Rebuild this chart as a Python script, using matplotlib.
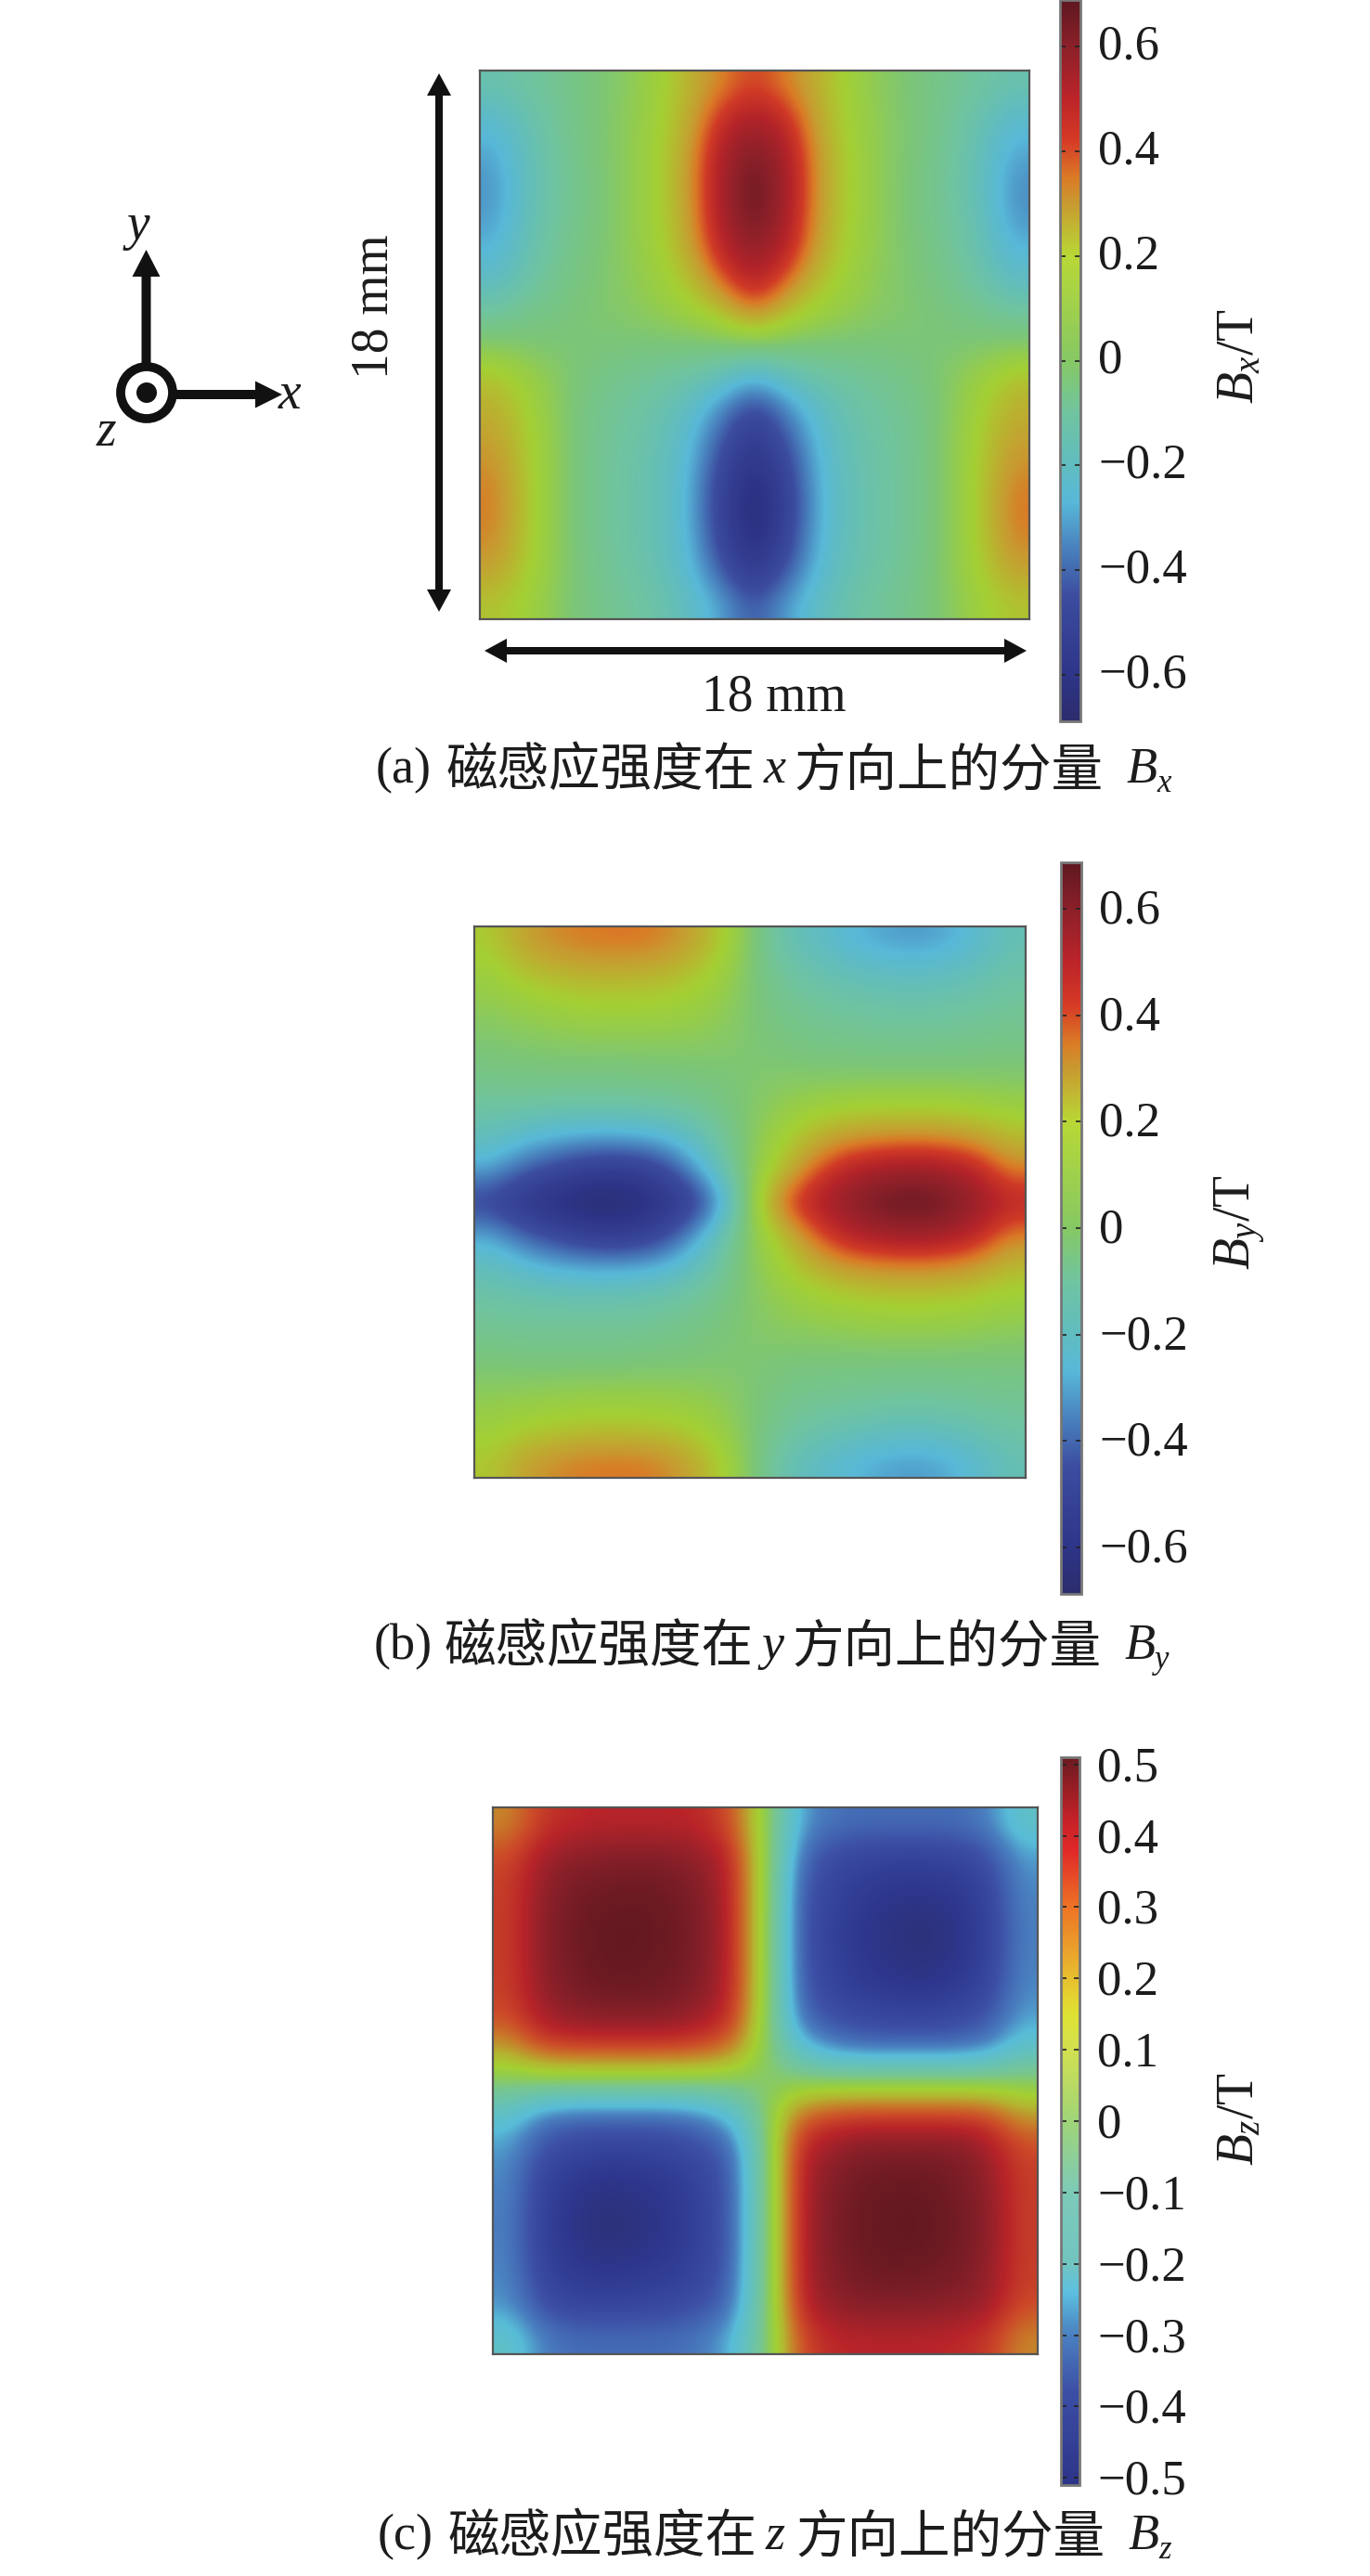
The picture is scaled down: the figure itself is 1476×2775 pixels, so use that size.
import matplotlib
matplotlib.use('Agg')
import matplotlib.pyplot as plt
import numpy as np
from matplotlib.colors import LinearSegmentedColormap, Normalize
from matplotlib.cm import ScalarMappable
from matplotlib.transforms import ScaledTranslation

plt.rcParams['font.family'] = ['Liberation Serif', 'Noto Sans CJK SC']
plt.rcParams['mathtext.fontset'] = 'custom'
plt.rcParams['mathtext.rm'] = 'Liberation Serif'
plt.rcParams['mathtext.it'] = 'Liberation Serif:italic'

W, H = 1476, 2775

# values, T, top row first
bx = [
    [-.14, -.10, -.06, -.01, .04, .12, .24, .34, .42, .34, .24, .12, .04, -.01, -.06, -.10, -.14],
    [-.24, -.15, -.07, -.01, .05, .13, .26, .46, .54, .46, .26, .13, .05, -.01, -.07, -.15, -.24],
    [-.30, -.17, -.08, -.01, .05, .14, .29, .53, .63, .53, .29, .14, .05, -.01, -.08, -.17, -.30],
    [-.33, -.18, -.09, -.02, .05, .14, .30, .55, .68, .55, .30, .14, .05, -.02, -.09, -.18, -.34],
    [-.32, -.17, -.08, -.02, .05, .14, .29, .54, .67, .54, .29, .14, .05, -.02, -.08, -.17, -.33],
    [-.28, -.15, -.07, -.01, .05, .13, .27, .50, .60, .50, .27, .13, .05, -.01, -.07, -.15, -.28],
    [-.21, -.12, -.05, .00, .04, .11, .20, .38, .52, .38, .20, .11, .04, .00, -.05, -.12, -.21],
    [-.10, -.05, -.02, .01, .03, .07, .12, .20, .36, .20, .12, .07, .03, .01, -.02, -.05, -.10],
    [.03, .01, .00, .00, -.01, -.01, -.01, .00, .01, .00, -.01, -.01, -.01, .00, .00, .01, .03],
    [.20, .11, .03, -.03, -.06, -.09, -.12, -.18, -.28, -.18, -.12, -.09, -.06, -.03, .03, .11, .20],
    [.25, .15, .03, -.05, -.09, -.13, -.21, -.35, -.50, -.35, -.21, -.13, -.09, -.05, .03, .15, .25],
    [.29, .17, .04, -.06, -.10, -.15, -.25, -.44, -.58, -.44, -.25, -.15, -.10, -.06, .04, .17, .29],
    [.33, .18, .04, -.06, -.11, -.16, -.27, -.50, -.63, -.50, -.27, -.16, -.11, -.06, .04, .18, .33],
    [.35, .18, .04, -.06, -.11, -.16, -.28, -.52, -.68, -.52, -.28, -.16, -.11, -.06, .04, .18, .36],
    [.33, .18, .04, -.06, -.11, -.16, -.27, -.50, -.65, -.50, -.27, -.16, -.11, -.06, .04, .18, .34],
    [.28, .16, .04, -.05, -.10, -.15, -.25, -.43, -.58, -.43, -.25, -.15, -.10, -.05, .04, .16, .28],
    [.19, .13, .03, -.04, -.08, -.12, -.20, -.31, -.44, -.31, -.20, -.12, -.08, -.04, .03, .13, .19],
]
by = [
    [.17, .28, .33, .35, .36, .35, .30, .20, .02, -.14, -.20, -.26, -.30, -.32, -.30, -.24, -.16],
    [.11, .19, .22, .24, .24, .23, .20, .13, .01, -.09, -.13, -.17, -.19, -.20, -.19, -.16, -.12],
    [.06, .09, .12, .14, .14, .14, .12, .08, .01, -.05, -.08, -.10, -.11, -.12, -.11, -.10, -.08],
    [.01, .03, .04, .05, .05, .05, .05, .04, .01, -.02, -.04, -.05, -.06, -.06, -.06, -.05, -.04],
    [-.03, -.02, -.02, -.02, -.02, -.01, -.01, .00, .01, .02, .01, .01, .01, .01, .01, .01, .01],
    [-.10, -.10, -.11, -.11, -.11, -.10, -.08, -.04, .02, .07, .11, .13, .14, .14, .14, .12, .10],
    [-.18, -.24, -.28, -.30, -.30, -.28, -.22, -.11, .03, .14, .24, .30, .32, .33, .32, .29, .22],
    [-.30, -.41, -.48, -.54, -.56, -.52, -.38, -.18, .04, .20, .38, .50, .55, .57, .55, .49, .34],
    [-.50, -.59, -.64, -.68, -.67, -.63, -.56, -.38, .05, .40, .52, .60, .66, .68, .66, .58, .50],
    [-.30, -.41, -.48, -.54, -.56, -.52, -.38, -.18, .04, .20, .38, .50, .55, .57, .55, .49, .34],
    [-.18, -.24, -.28, -.30, -.30, -.28, -.22, -.11, .03, .14, .24, .30, .32, .33, .32, .29, .22],
    [-.11, -.12, -.13, -.13, -.13, -.12, -.09, -.05, .02, .08, .12, .15, .17, .17, .17, .15, .12],
    [-.06, -.07, -.07, -.07, -.07, -.06, -.04, -.01, .02, .04, .05, .06, .07, .07, .07, .06, .05],
    [.00, -.01, -.01, -.01, -.01, .00, .00, .01, .01, -.01, -.02, -.02, -.02, -.02, -.02, -.02, -.02],
    [.06, .07, .08, .09, .09, .09, .08, .06, .01, -.04, -.06, -.07, -.08, -.09, -.08, -.07, -.06],
    [.12, .16, .18, .20, .20, .19, .17, .11, .01, -.08, -.12, -.15, -.17, -.18, -.17, -.14, -.11],
    [.18, .28, .33, .35, .36, .35, .29, .19, .02, -.14, -.21, -.26, -.30, -.32, -.30, -.24, -.16],
]
bz = [
    [.22, .34, .37, .38, .38, .38, .37, .30, .04, -.26, -.32, -.33, -.33, -.33, -.33, -.30, -.18],
    [.31, .41, .44, .45, .45, .45, .43, .37, .05, -.32, -.39, -.41, -.42, -.42, -.41, -.38, -.27],
    [.33, .43, .47, .48, .49, .48, .45, .38, .05, -.35, -.41, -.44, -.46, -.46, -.45, -.41, -.29],
    [.33, .44, .48, .50, .50, .49, .46, .38, .05, -.36, -.42, -.46, -.48, -.49, -.47, -.42, -.30],
    [.33, .44, .48, .50, .50, .49, .46, .38, .05, -.36, -.42, -.46, -.48, -.49, -.47, -.42, -.30],
    [.33, .43, .47, .49, .49, .48, .45, .38, .05, -.35, -.41, -.45, -.46, -.47, -.45, -.41, -.29],
    [.31, .41, .44, .45, .45, .45, .42, .36, .04, -.33, -.38, -.40, -.41, -.41, -.40, -.37, -.27],
    [.19, .31, .33, .33, .33, .33, .31, .25, .02, -.20, -.30, -.33, -.33, -.33, -.33, -.30, -.19],
    [.00, .01, .01, .01, .01, .01, .01, .00, .00, .00, .00, .00, .00, .00, .00, .00, .00],
    [-.19, -.30, -.33, -.33, -.33, -.33, -.30, -.21, -.02, .25, .31, .33, .33, .33, .33, .31, .19],
    [-.27, -.37, -.40, -.41, -.41, -.40, -.38, -.34, -.04, .36, .42, .45, .45, .45, .45, .41, .31],
    [-.29, -.41, -.45, -.47, -.46, -.45, -.41, -.36, -.05, .38, .45, .48, .49, .49, .47, .43, .33],
    [-.30, -.42, -.47, -.49, -.48, -.46, -.42, -.36, -.05, .38, .46, .49, .50, .50, .48, .44, .33],
    [-.30, -.42, -.47, -.49, -.48, -.46, -.42, -.36, -.05, .38, .46, .49, .50, .50, .48, .44, .33],
    [-.29, -.41, -.45, -.46, -.45, -.44, -.41, -.35, -.05, .38, .45, .48, .49, .48, .47, .43, .33],
    [-.28, -.38, -.41, -.41, -.41, -.40, -.38, -.33, -.05, .37, .43, .45, .45, .45, .44, .42, .31],
    [-.18, -.30, -.33, -.33, -.33, -.33, -.31, -.25, -.04, .30, .37, .38, .38, .38, .37, .34, .22],
]

ticks_ab = [-.6, -.4, -.2, 0, .2, .4, .6]
labels_ab = ['\u22120.6', '\u22120.4', '\u22120.2', '0', '0.2', '0.4', '0.6']
ticks_c = [-.5, -.4, -.3, -.2, -.1, 0, .1, .2, .3, .4, .5]
labels_c = ['\u22120.5', '\u22120.4', '\u22120.3', '\u22120.2', '\u22120.1', '0', '0.1', '0.2', '0.3', '0.4', '0.5']

# colour stops taken from the colour bars, the maps run a bit less yellow
stops_ab_bar = [(-.688, '#2c2c6c'), (-.6, '#2e3588'), (-.45, '#3c4c9f'), (-.35, '#4a86c0'), (-.27, '#58b8d8'),
                (-.2, '#60bcc0'), (-.1, '#70c4a0'), (0, '#86c864'), (.2, '#b8d835'), (.3, '#c89a30'),
                (.35, '#da7a26'), (.42, '#d63a26'), (.5, '#bc2429'), (.6, '#8c2029'), (.688, '#5e1820')]
stops_ab_map = [(-.688, '#2c2c6c'), (-.6, '#2e3588'), (-.45, '#3c4c9f'), (-.35, '#4a86c0'), (-.27, '#58b8d8'),
                (-.2, '#60bcc0'), (-.1, '#70c4a0'), (0, '#7cc678'), (.08, '#94cc4c'), (.15, '#a4d034'),
                (.21, '#b4bc30'), (.3, '#c89a30'), (.35, '#da7a26'), (.42, '#d03a26'), (.5, '#b42429'),
                (.6, '#8c2029'), (.688, '#5e1820')]
stops_c_bar = [(-.51, '#2c3488'), (-.38, '#3c4ea5'), (-.3, '#4a80c0'), (-.24, '#5cc0e0'),
               (-.2, '#72c4c0'), (-.1, '#7ccab8'), (0, '#a0d478'), (.1, '#d2e050'), (.15, '#dfe232'), (.2, '#e8c030'),
               (.3, '#ee7425'), (.38, '#e02828'), (.42, '#c82228'), (.51, '#6c1a22')]
stops_c_map = [(-.51, '#2c2e6c'), (-.46, '#2e378e'), (-.38, '#3c4ea5'), (-.3, '#4a80c0'), (-.24, '#58bcd8'),
               (-.15, '#66c2b8'), (-.05, '#78c690'), (.03, '#90cc50'), (.09, '#a4d032'), (.16, '#b4b430'),
               (.24, '#c87c2a'), (.31, '#cc4a28'), (.38, '#b82429'), (.44, '#8c2029'), (.51, '#5e1820')]


def make_cmap(stops):
    lo, hi = stops[0][0], stops[-1][0]
    return LinearSegmentedColormap.from_list('b', [((v - lo) / (hi - lo), c) for v, c in stops], N=512)


def px_axes(x0, y0, x1, y1):
    return fig.add_axes([x0 / W, 1 - y1 / H, (x1 - x0) / W, (y1 - y0) / H])


def panel(data, box, cbox, stops, bar_stops, ticks, labels, lift):
    vmin, vmax = stops[0][0], stops[-1][0]
    ax = px_axes(*box)
    ax.imshow(np.array(data), cmap=make_cmap(stops), vmin=vmin, vmax=vmax, aspect='auto', interpolation='bicubic')
    ax.set_xticks([])
    ax.set_yticks([])
    for s in ax.spines.values():
        s.set_color('#555555')
        s.set_linewidth(1.6)
    cax = px_axes(*cbox)
    cb = fig.colorbar(ScalarMappable(Normalize(vmin, vmax), make_cmap(bar_stops)), cax=cax)
    cb.set_ticks(ticks, labels=labels)
    cb.minorticks_off()
    cb.outline.set_edgecolor('#777777')
    cb.outline.set_linewidth(2)
    cax.tick_params(axis='y', direction='in', left=True, right=True, length=4, width=1.2,
                    color='#222222', pad=14, labelsize=38, labelcolor=text)
    # numbers sit a little above their ticks in the reference
    for lab in cax.get_yticklabels():
        lab.set_transform(lab.get_transform() + ScaledTranslation(0, lift / 100, fig.dpi_scale_trans))


text = '#1c1c1c'
ink = '#111111'

fig = plt.figure(figsize=(W / 100, H / 100), dpi=100)

panel(bx, (517, 76, 1109, 667), (1142, 0, 1164, 777), stops_ab_map, stops_ab_bar, ticks_ab, labels_ab, 5)
panel(by, (511, 998, 1105, 1592), (1143, 929, 1165, 1717), stops_ab_map, stops_ab_bar, ticks_ab, labels_ab, 3)
panel(bz, (531, 1947, 1118, 2536), (1143, 1893, 1163, 2677), stops_c_map, stops_c_bar, ticks_c, labels_c, 1)

# overlay in pixel coordinates for the annotations
ov = fig.add_axes([0, 0, 1, 1], zorder=5)
ov.set_xlim(0, W)
ov.set_ylim(H, 0)
ov.axis('off')
ov.patch.set_alpha(0)


def arrow(x0, y0, x1, y1, width, hw, hl):
    ov.arrow(x0, y0, x1 - x0, y1 - y0, width=width, head_width=hw, head_length=hl,
             length_includes_head=True, fc=ink, ec='none')


# size arrows
arrow(473, 370, 473, 79, 8, 26, 24)
arrow(473, 370, 473, 659, 8, 26, 24)
arrow(814, 701, 522, 701, 8, 26, 24)
arrow(814, 701, 1106, 701, 8, 26, 24)
ov.text(403, 330, '18 mm', rotation=90, ha='center', va='center', fontsize=40, color=text)
ov.text(834, 752, '18 mm', ha='center', va='center', fontsize=40, color=text)

# coordinate triad
arrow(157.5, 400, 157.5, 269, 10, 30, 29)
arrow(180, 425, 304, 425, 10, 29, 29)
ov.add_patch(plt.Circle((158, 423), 28, fc='white', ec=ink, lw=7))
ov.add_patch(plt.Circle((158, 423), 11, fc=ink, ec='none'))
ov.text(149, 244, 'y', style='italic', ha='center', va='center', fontsize=40, color=text)
ov.text(312, 426, 'x', style='italic', ha='center', va='center', fontsize=40, color=text)
ov.text(114, 466, 'z', style='italic', ha='center', va='center', fontsize=40, color=text)

# colour bar titles
ov.text(1336, 384, r'$\mathit{B}_{\mathit{x}}$/T', rotation=90, ha='center', va='center', fontsize=40, color=text)
ov.text(1336, 1317, r'$\mathit{B}_{\mathit{y}}$/T', rotation=90, ha='center', va='center', fontsize=40, color=text)
ov.text(1336, 2283, r'$\mathit{B}_{\mathit{z}}$/T', rotation=90, ha='center', va='center', fontsize=40, color=text)


def caption(tag, letter, sub, base, dx=0):
    ov.text(405 + dx, base, tag, fontsize=39, color=text, va='baseline')
    ov.text(481 + dx, base + 3, '磁感应强度在', fontsize=40, color=text, va='baseline', family='Noto Sans CJK SC')
    ov.text(823 + dx, base, letter, fontsize=39, style='italic', color=text, va='baseline')
    ov.text(855 + dx, base + 3, '方向上的分量', fontsize=40, color=text, va='baseline', family='Noto Sans CJK SC')
    ov.text(1213 + dx, base, 'B', fontsize=39, style='italic', color=text, va='baseline')
    ov.text(1246 + dx, base + 10, sub, fontsize=25, style='italic', color=text, va='baseline')


caption('(a)', 'x', 'x', 843)
caption('(b)', 'y', 'y', 1787, -2)
caption('(c)', 'z', 'z', 2746, 2)

fig.savefig('out.png', dpi=100, facecolor='white')
